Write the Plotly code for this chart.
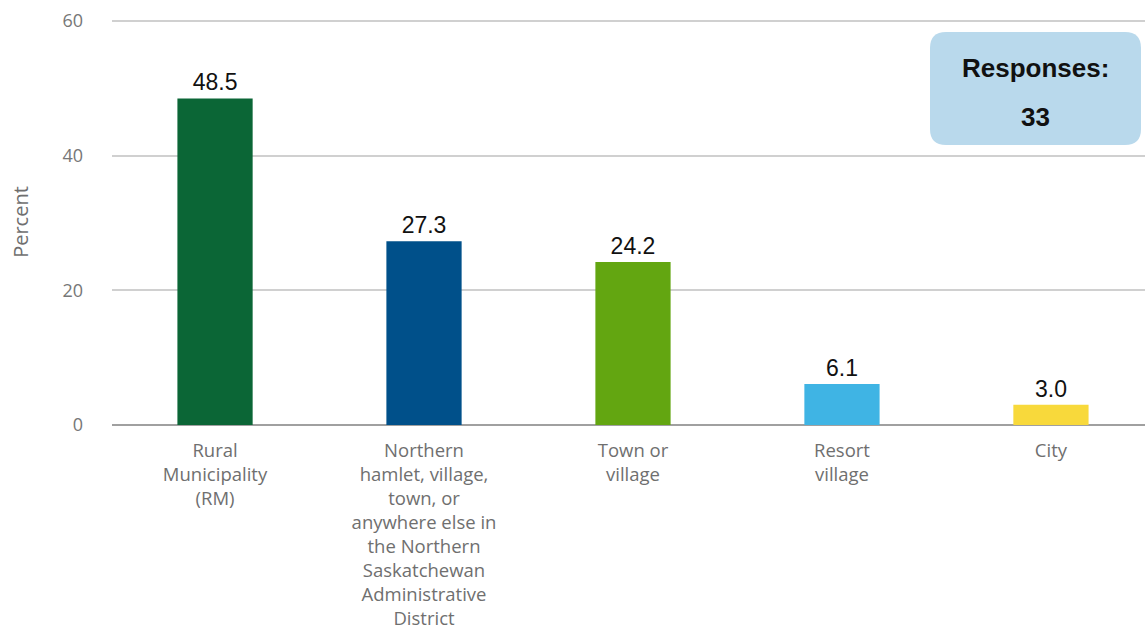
import plotly.graph_objects as go

categories = [
    "Rural<br>Municipality<br>(RM)",
    "Northern<br>hamlet, village,<br>town, or<br>anywhere else in<br>the Northern<br>Saskatchewan<br>Administrative<br>District",
    "Town or<br>village",
    "Resort<br>village",
    "City",
]
percent = [48.5, 27.3, 24.2, 6.1, 3.0]
bar_colors = ["#0b6636", "#00508a", "#63a611", "#3fb4e4", "#f8d93b"]
y_ticks = [0, 20, 40, 60]
responses = 33

W, H = 1145, 637
L, R, T, B = 112, 0, 19, 212
pw, ph = W - L - R, H - T - B


def px_x(x):
    return (x - L) / pw


def px_y(y):
    return (H - B - y) / ph


fig = go.Figure()
fig.add_trace(go.Bar(
    x=list(range(len(categories))),
    y=percent,
    marker=dict(color=bar_colors, line=dict(width=0)),
    width=0.36,
    text=[f"{v:.1f}" for v in percent],
    textposition="outside",
    textfont=dict(family="Arial", size=23, color="#111111"),
    cliponaxis=False,
    hoverinfo="skip",
))

# rounded info box in the upper right
x0, x1, y0, y1, r = 930, 1141, 32, 145, 16
rx, ry = r / pw, r / ph
X0, X1, Y0, Y1 = px_x(x0), px_x(x1), px_y(y1), px_y(y0)
path = (
    f"M {X0 + rx},{Y0} L {X1 - rx},{Y0} Q {X1},{Y0} {X1},{Y0 + ry} "
    f"L {X1},{Y1 - ry} Q {X1},{Y1} {X1 - rx},{Y1} "
    f"L {X0 + rx},{Y1} Q {X0},{Y1} {X0},{Y1 - ry} "
    f"L {X0},{Y0 + ry} Q {X0},{Y0} {X0 + rx},{Y0} Z"
)
fig.add_shape(type="path", path=path, xref="paper", yref="paper",
              fillcolor="#b9d9ec", line=dict(width=0), layer="above")
cx = px_x((x0 + x1) / 2)
fig.add_annotation(x=cx, y=px_y(68), xref="paper", yref="paper",
                   xanchor="center", yanchor="middle",
                   text="<b>Responses:</b>", showarrow=False,
                   font=dict(family="Arial", size=26, color="#111111"))
fig.add_annotation(x=cx, y=px_y(117), xref="paper", yref="paper",
                   xanchor="center", yanchor="middle",
                   text=f"<b>{responses}</b>", showarrow=False,
                   font=dict(family="Arial", size=26, color="#111111"))

fig.update_layout(
    width=W, height=H,
    margin=dict(l=L, r=R, t=T, b=B, autoexpand=False),
    plot_bgcolor="white", paper_bgcolor="white",
    showlegend=False,
    xaxis=dict(
        tickmode="array", tickvals=list(range(len(categories))), ticktext=categories,
        range=[-0.493, 4.45], showgrid=False, zeroline=False, showline=False,
        tickfont=dict(family="Open Sans", size=18.5, color="#6f6f6f"),
        ticks="", ticklabelstandoff=12, automargin=False,
    ),
    yaxis=dict(
        range=[0, 60.3], tickvals=y_ticks, showgrid=True, gridcolor="#d0d0d0", gridwidth=1.5,
        zeroline=True, zerolinecolor="#a0a0a0", zerolinewidth=2,
        tickfont=dict(family="Open Sans", size=18, color="#777777"),
        ticks="", ticklabelstandoff=28, automargin=False,
        title=dict(text="Percent", font=dict(family="Open Sans", size=20, color="#6f6f6f"), standoff=28),
    ),
)

fig.write_html("out.html")
